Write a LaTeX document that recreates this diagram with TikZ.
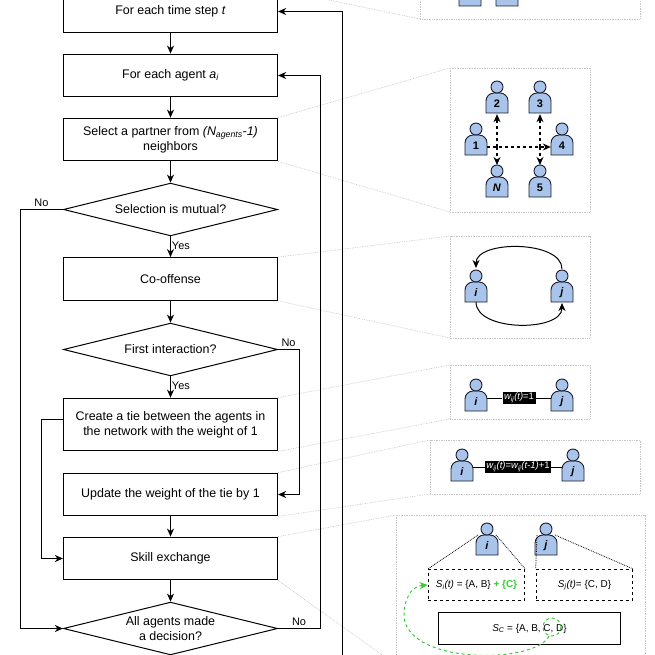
\documentclass[tikz,border=0pt]{standalone}
\usepackage{fontspec}
\setmainfont{Liberation Sans}
\usetikzlibrary{shapes.geometric,arrows.meta}
\definecolor{agentfill}{HTML}{A9C4EB}
\definecolor{agentline}{HTML}{1A1A2E}
\definecolor{grn}{HTML}{33CC33}
\newcommand\sub[1]{\textsubscript{#1}}
\newcommand\agentic[4]{%
 \begin{scope}[shift={(#2,#3)}]
  \draw[agentst] (-11,10) [rounded corners=8]-- (-11,-10) -- (11,-10) [sharp corners]-- (11,10) -- cycle;
  \draw[agentst] (0,-16) circle[radius=6];
  \node[font=\fontsize{11}{12}\selectfont\bfseries, inner sep=0, minimum width=22, minimum height=20] (#1) at (0,1) {#4};
  \coordinate (#1-top) at (0,-22);
 \end{scope}}
\begin{document}
\begin{tikzpicture}[x=1bp,y=-1bp,
  >={Stealth[length=8bp,width=7bp,inset=2.5bp]},
  every node/.style={font=\fontsize{12.5}{15}\selectfont},
  box/.style={draw, line width=1pt, rectangle, minimum width=215, minimum height=43, align=center, inner sep=2},
  dec/.style={draw, line width=1pt, diamond, aspect=4.06, minimum width=215, minimum height=53, inner sep=0, align=center},
  flow/.style={line width=1pt,->},
  line/.style={line width=1pt},
  lbl/.style={font=\fontsize{11}{12}\selectfont, inner sep=1},
  guide/.style={draw=gray!45, densely dotted, line width=0.7pt},
  panel/.style={draw=gray!45, densely dotted, line width=0.7pt},
  agentst/.style={fill=agentfill, draw=agentline, line width=0.9pt},
  dlink/.style={dashed, line width=1.2pt,->},
  wlab/.style={fill=black, text=white, font=\fontsize{9.5}{11}\selectfont, inner sep=1.5}
]
\useasboundingbox (0,0) rectangle (655,655);

% flowchart nodes
\node[box] (b1) at (170.5,11.5) {For each time step \textit{t}};
\node[box] (b2) at (170.5,75.5) {For each agent \textit{a\sub{i}}};
\node[box] (b3) at (170.5,139.5) {Select a partner from \textit{(N\sub{agents}-1)}\\neighbors};
\node[dec] (d1) at (170.5,209.5) {Selection is mutual?};
\node[box] (b4) at (170.5,279) {Co-offense};
\node[dec] (d2) at (170.5,349.5) {First interaction?};
\node[box, minimum height=53] (b5) at (170.5,424.5) {Create a tie between the agents in\\the network with the weight of 1};
\node[box] (b6) at (170.5,494.5) {Update the weight of the tie by 1};
\node[box] (b7) at (170.5,558.5) {Skill exchange};
\node[dec] (d3) at (170.5,628.5) {All agents made\\a decision?};

% guide lines
\draw[guide] (b1.north east) -- (420,19);
\draw[guide] (b3.north east) -- (450,68);
\draw[guide] (b3.south east) -- (450,212);
\draw[guide] (b4.north east) -- (450,236);
\draw[guide] (b4.south east) -- (450,338);
\draw[guide] (b5.north east) -- (450,365);
\draw[guide] (b5.south east) -- (450,419);
\draw[guide] (b6.north east) -- (430,440);
\draw[guide] (b6.south east) -- (430,494);
\draw[guide] (b7.north east) -- (396,515);
\draw[guide] (b7.south east) -- (396,665);

% flow
\draw[flow] (b1) -- (b2);
\draw[flow] (b2) -- (b3);
\draw[flow] (b3) -- (d1);
\draw[flow] (d1) -- node[lbl, right, pos=0.45] {Yes} (b4);
\draw[flow] (b4) -- (d2);
\draw[flow] (d2) -- node[lbl, right, pos=0.45] {Yes} (b5);
\draw[flow] (b6) -- (b7);
\draw[flow] (b7) -- (d3);
\draw[flow] (d1.west) -- node[lbl, above, pos=0.5, yshift=1] {No} (20,209.5) -- (20,628.5) -- (d3.west);
\draw[flow] (d2.east) -- node[lbl, above, pos=0.5, yshift=1] {No} (299,349.5) -- (299,494.5) -- (b6.east);
\draw[flow] (63,419) -- (41,419) -- (41,558.5) -- (b7.west);
\draw[flow] (d3.east) -- node[lbl, above, pos=0.5, yshift=1] {No} (320,628.5) -- (320,75.5) -- (b2.east);
\draw[flow] (342,670) -- (342,11.5) -- (b1.east);

% panel 0 (partial)
\draw[panel] (420,-40) rectangle (640,19);
\agentic{p0a}{470}{-4}{\textit{N}}
\agentic{p0b}{507}{-4}{6}

% panel 1
\draw[panel] (450,68) rectangle (590,212);
\agentic{a1}{476}{145}{1}
\agentic{a2}{497}{103}{2}
\agentic{a3}{540}{103}{3}
\agentic{a4}{562}{145}{4}
\agentic{aN}{497}{187}{\textit{N}}
\agentic{a5}{540}{187}{5}
\coordinate (r1) at (497,147);
\coordinate (r2) at (540,147);
\draw[dlink] (r1) -- (a2.south);
\draw[dlink] (r1) -- (aN-top);
\draw[dlink] (a1.east |- r1) -- (a4.west |- r1);
\draw[dlink] (r2) -- (a3.south);
\draw[dlink] (r2) -- (a5-top);

% panel 2
\draw[panel] (450,236) rectangle (590,338);
\agentic{ci}{476}{292}{\textit{i}}
\agentic{cj}{562}{292}{\textit{j}}
\draw[flow] (562,269) .. controls (562,240) and (476,240) .. (476,268);
\draw[flow] (476,302) .. controls (476,332) and (562,332) .. (562,303);

% panel 3
\draw[panel] (450,365) rectangle (590,419);
\agentic{ti}{476}{401}{\textit{i}}
\agentic{tj}{562}{401}{\textit{j}}
\node[wlab] (w1) at (519,398) {\textit{w\sub{ij}(t)}=1};
\draw[line] (ti.east |- w1) -- (w1) -- (tj.west |- w1);

% panel 4
\draw[panel] (430,440) rectangle (640,494);
\agentic{ui}{462}{471}{\textit{i}}
\agentic{uj}{573}{471}{\textit{j}}
\node[wlab] (w2) at (518,467) {\textit{w\sub{ij}(t)}=\textit{w\sub{ij}(t-1)}+1};
\draw[line] (ui.east |- w2) -- (w2) -- (uj.west |- w2);

% panel 5
\draw[panel] (396,515) rectangle (645,670);
\agentic{si}{487}{545}{\textit{i}}
\agentic{sj}{546}{545}{\textit{j}}
\node[draw, dashed, line width=1pt, minimum width=97, minimum height=31, font=\fontsize{10}{12}\selectfont] (Si) at (476.5,585) {\textit{S\sub{i}(t)} = \{A, B\} \textcolor{grn}{\textbf{+ \{C\}}}};
\node[draw, dashed, line width=1pt, minimum width=97, minimum height=31, font=\fontsize{10}{12}\selectfont] (Sj) at (584.5,585) {\textit{S\sub{j}(t)}= \{C, D\}};
\draw[densely dotted, line width=0.8pt] (478,535) -- (Si.north west);
\draw[densely dotted, line width=0.8pt] (496,535) -- (Si.north east);
\draw[densely dotted, line width=0.8pt] (537,535) -- (Sj.north west);
\draw[densely dotted, line width=0.8pt] (555,535) -- (Sj.north east);
\node[draw, line width=1pt, minimum width=183, minimum height=33, font=\fontsize{10}{12}\selectfont] (SC) at (529.5,628.5) {\textit{S\sub{C}} = \{A, B, C, D\}};
\draw[grn, dashed, line width=1pt] (552,627) ellipse[x radius=9, y radius=9];
\draw[grn, dashed, line width=1pt, ->] (549,636) .. controls (535,665) and (400,665) .. (404,612) .. controls (406,592) and (415,586) .. (Si.west);
\end{tikzpicture}
\end{document}
